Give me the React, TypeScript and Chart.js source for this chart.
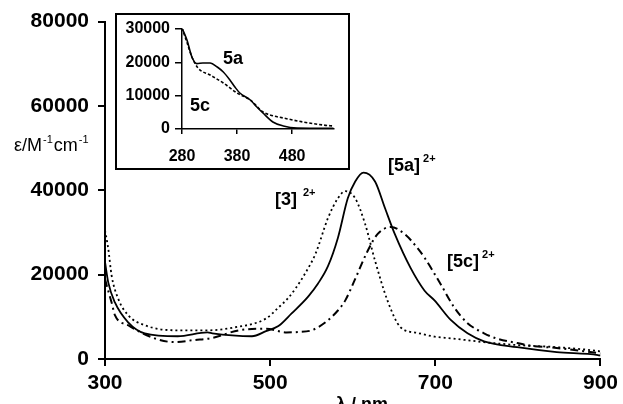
import React, { useEffect, useRef } from "react";
import { Chart, registerables } from "chart.js";

Chart.register(...registerables);

// Main spectrum data (nm, M^-1 cm^-1)
const wl5a = [300, 304, 312, 328, 348, 388, 424, 430, 454, 478, 495, 510, 526, 546, 558, 570, 582, 594, 603, 613, 627, 639, 651, 670, 687, 699, 719, 739, 759, 799, 847, 897, 900];
const eps5a = [23000, 18100, 13400, 8700, 6100, 5400, 6300, 6100, 5600, 5400, 6600, 7800, 10800, 14800, 17900, 22000, 28700, 38100, 42100, 44200, 42100, 35800, 29600, 21600, 16200, 13900, 9200, 6100, 4200, 2800, 1650, 940, 800];

const wl3 = [300, 304, 308, 316, 328, 348, 388, 424, 454, 495, 510, 522, 531, 543, 555, 570, 582, 591, 603, 615, 627, 642, 658, 678, 699, 719, 759, 799, 847, 897, 900];
const eps3 = [30500, 26100, 19800, 14300, 10400, 8000, 6800, 6800, 7400, 9600, 12200, 14500, 16800, 20500, 25000, 33400, 38100, 39800, 38100, 32000, 23300, 13900, 7500, 6200, 5300, 4900, 4000, 3300, 2800, 1900, 1800];

const wl5c = [300, 302, 308, 312, 328, 360, 384, 408, 430, 462, 495, 520, 534, 550, 567, 582, 591, 603, 618, 630, 646, 663, 678, 687, 706, 723, 739, 759, 775, 799, 814, 847, 897, 900];
const eps5c = [19000, 17500, 13400, 10400, 8000, 4900, 4000, 4500, 5000, 6800, 7200, 6300, 6400, 6800, 8700, 11500, 13900, 19000, 25600, 29600, 31300, 29600, 26400, 24000, 17900, 12200, 8500, 6100, 4800, 3800, 3200, 2600, 1400, 1300];

// Inset data
const insetWl5a = [280, 289, 298, 307, 318, 331, 344, 355, 367, 376, 385, 404, 416, 427, 445, 464, 489, 555];
const insetEps5a = [30300, 26700, 21600, 19600, 19800, 19800, 18600, 17100, 14700, 12600, 10800, 8700, 6600, 4800, 2100, 900, 300, 200];
const insetWl5c = [280, 289, 298, 309, 331, 355, 380, 404, 427, 440, 464, 500, 536, 555];
const insetEps5c = [30300, 26000, 21600, 18300, 16200, 13800, 10800, 8700, 5100, 4200, 3300, 2100, 1200, 900];

// Tick values
const mainXTicks = [300, 500, 700, 900];
const mainYTicks = [0, 20000, 40000, 60000, 80000];
const insetXTicks = [280, 380, 480];
const insetYTicks = [0, 10000, 20000, 30000];

const pts = (xs: number[], ys: number[]) => xs.map((x, i) => ({ x, y: ys[i] }));

function drawSup(ctx: CanvasRenderingContext2D, x: number, y: number, base: string, sup: string, size: number, supSize: number, rise: number, gap: number) {
  ctx.font = `bold ${size}px Arial, "Liberation Sans", sans-serif`;
  ctx.fillText(base, x, y);
  const w = ctx.measureText(base).width;
  ctx.font = `bold ${supSize}px Arial, "Liberation Sans", sans-serif`;
  ctx.fillText(sup, x + w + gap, y - rise);
}

export default function App() {
  const mainRef = useRef<HTMLCanvasElement>(null);
  const insetRef = useRef<HTMLCanvasElement>(null);

  useEffect(() => {
    const font = 'Arial, "Liberation Sans", sans-serif';
    const mainLabels = {
      id: "mainLabels",
      afterDraw(chart: any) {
        const ctx = chart.ctx as CanvasRenderingContext2D;
        ctx.save();
        ctx.fillStyle = "#000";
        ctx.textBaseline = "alphabetic";
        ctx.textAlign = "left";
        drawSup(ctx, 275, 205, "[3]", "2+", 18, 11, 9, 6);
        drawSup(ctx, 388, 171, "[5a]", "2+", 18, 11, 9, 3);
        drawSup(ctx, 447, 267, "[5c]", "2+", 18, 11, 9, 3);
        // y axis title (horizontal)
        let x = 14;
        const yb = 151;
        ctx.font = `18px ${font}`;
        ctx.fillText("ε/M", x, yb);
        x += ctx.measureText("ε/M").width + 1;
        ctx.font = `11px ${font}`;
        ctx.fillText("-1", x, yb - 8);
        x += ctx.measureText("-1").width + 1;
        ctx.font = `18px ${font}`;
        ctx.fillText("cm", x, yb);
        x += ctx.measureText("cm").width + 1;
        ctx.font = `11px ${font}`;
        ctx.fillText("-1", x, yb - 8);
        // x axis title
        ctx.font = `bold 18px ${font}`;
        ctx.textAlign = "center";
        ctx.textBaseline = "top";
        ctx.fillText("λ / nm", 362, 396);
        ctx.restore();
      },
    };

    const lineOpts = { pointRadius: 0, cubicInterpolationMode: "monotone", fill: false, borderColor: "#000" };

    const main = new Chart(mainRef.current!, {
      type: "line",
      data: {
        datasets: [
          { label: "[3]2+", data: pts(wl3, eps3), borderWidth: 1.8, borderDash: [2, 3], ...lineOpts },
          { label: "[5a]2+", data: pts(wl5a, eps5a), borderWidth: 1.8, ...lineOpts },
          { label: "[5c]2+", data: pts(wl5c, eps5c), borderWidth: 2, borderDash: [8, 4, 2, 4], ...lineOpts },
        ],
      },
      options: {
        animation: false,
        responsive: false,
        events: [],
        layout: { padding: { top: 19, right: 20, left: 0, bottom: 0 } },
        plugins: { legend: { display: false }, tooltip: { enabled: false } },
        scales: {
          x: {
            type: "linear",
            min: 300,
            max: 900,
            afterBuildTicks: (s: any) => { s.ticks = mainXTicks.map((v) => ({ value: v })); },
            afterFit: (s: any) => { s.height = 45; },
            border: { display: true, color: "#000", width: 2 },
            grid: { display: true, drawOnChartArea: false, drawTicks: true, tickLength: 7, color: "#000", lineWidth: 2 },
            ticks: { color: "#000", font: { family: font, size: 21, weight: "bold" }, padding: 5, maxRotation: 0 },
          },
          y: {
            type: "linear",
            min: 0,
            max: 80000,
            afterBuildTicks: (s: any) => { s.ticks = mainYTicks.map((v) => ({ value: v })); },
            afterFit: (s: any) => { s.width = 105; },
            border: { display: true, color: "#000", width: 2 },
            grid: { display: true, drawOnChartArea: false, drawTicks: true, tickLength: 7, color: "#000", lineWidth: 2 },
            ticks: { color: "#000", font: { family: font, size: 21, weight: "bold" }, padding: 9, callback: (v: any) => String(v) },
          },
        },
      },
      plugins: [mainLabels],
    } as any);

    const insetLabels = {
      id: "insetLabels",
      beforeDraw(chart: any) {
        const ctx = chart.ctx as CanvasRenderingContext2D;
        ctx.save();
        ctx.fillStyle = "#fff";
        ctx.fillRect(0, 0, chart.width, chart.height);
        ctx.restore();
      },
      afterDraw(chart: any) {
        const ctx = chart.ctx as CanvasRenderingContext2D;
        ctx.save();
        ctx.strokeStyle = "#000";
        ctx.lineWidth = 2;
        ctx.strokeRect(1, 1, chart.width - 2, chart.height - 2);
        ctx.fillStyle = "#000";
        ctx.font = `bold 18px ${font}`;
        ctx.textAlign = "left";
        ctx.textBaseline = "alphabetic";
        ctx.fillText("5a", 108, 51);
        ctx.fillText("5c", 75, 98);
        ctx.restore();
      },
    };

    const inset = new Chart(insetRef.current!, {
      type: "line",
      data: {
        datasets: [
          { label: "5a", data: pts(insetWl5a, insetEps5a), borderWidth: 1.6, ...lineOpts },
          { label: "5c", data: pts(insetWl5c, insetEps5c), borderWidth: 1.6, borderDash: [3, 2], ...lineOpts },
        ],
      },
      options: {
        animation: false,
        responsive: false,
        events: [],
        layout: { padding: { top: 16, right: 16, left: 0, bottom: 0 } },
        plugins: { legend: { display: false }, tooltip: { enabled: false } },
        scales: {
          x: {
            type: "linear",
            min: 280,
            max: 556,
            afterBuildTicks: (s: any) => { s.ticks = insetXTicks.map((v) => ({ value: v })); },
            afterFit: (s: any) => { s.height = 41; },
            border: { display: true, color: "#000", width: 1.5 },
            grid: { display: true, drawOnChartArea: false, drawTicks: true, tickLength: 5, color: "#000", lineWidth: 1.5 },
            ticks: { color: "#000", font: { family: font, size: 16, weight: "bold" }, padding: 13, maxRotation: 0 },
          },
          y: {
            type: "linear",
            min: 0,
            max: 30000,
            afterBuildTicks: (s: any) => { s.ticks = insetYTicks.map((v) => ({ value: v })); },
            afterFit: (s: any) => { s.width = 67; },
            border: { display: true, color: "#000", width: 1.5 },
            grid: { display: true, drawOnChartArea: false, drawTicks: true, tickLength: 7, color: "#000", lineWidth: 1.5 },
            ticks: { color: "#000", font: { family: font, size: 16, weight: "bold" }, padding: 5, callback: (v: any) => String(v) },
          },
        },
      },
      plugins: [insetLabels],
    } as any);

    return () => {
      main.destroy();
      inset.destroy();
    };
  }, []);

  return (
    <div style={{ position: "fixed", left: 0, top: 0, width: 623, height: 404, background: "#fff", overflow: "hidden" }}>
      <canvas ref={mainRef} width={623} height={404} style={{ position: "absolute", left: 0, top: 0, width: 623, height: 404 }} />
      <canvas ref={insetRef} width={235} height={157} style={{ position: "absolute", left: 115, top: 13, width: 235, height: 157 }} />
    </div>
  );
}
